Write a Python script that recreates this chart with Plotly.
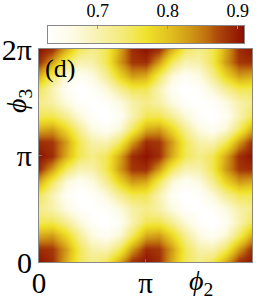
import numpy as np
import plotly.graph_objects as go

# one period (pi x pi) of the map, sampled every pi/8; rows = phi3, cols = phi2
quadrant = np.array([
    [0.905, 0.888, 0.818, 0.750, 0.725, 0.750, 0.818, 0.888, 0.905],
    [0.888, 0.882, 0.828, 0.752, 0.705, 0.699, 0.745, 0.830, 0.888],
    [0.818, 0.828, 0.780, 0.718, 0.665, 0.644, 0.672, 0.745, 0.818],
    [0.750, 0.752, 0.718, 0.672, 0.637, 0.624, 0.644, 0.699, 0.750],
    [0.725, 0.705, 0.665, 0.637, 0.629, 0.637, 0.665, 0.705, 0.725],
    [0.750, 0.699, 0.644, 0.624, 0.637, 0.672, 0.718, 0.752, 0.750],
    [0.818, 0.745, 0.672, 0.644, 0.665, 0.718, 0.780, 0.828, 0.818],
    [0.888, 0.830, 0.745, 0.699, 0.705, 0.752, 0.828, 0.882, 0.888],
    [0.905, 0.888, 0.818, 0.750, 0.725, 0.750, 0.818, 0.888, 0.905],
])
idx = np.r_[0:8, 0:9]
z_full = quadrant[np.ix_(idx, idx)]
phi2 = np.arange(17) * np.pi / 8
phi3 = np.arange(17) * np.pi / 8

zmin, zmax = 0.629, 0.909
cbar_ticks = [0.7, 0.8, 0.9]
cbar_ticktext = ["0.7", "0.8", "0.9"]
axis_tickvals = [0, np.pi, 2 * np.pi]
axis_ticktext = ["0", "π", "2π"]

colorscale = [
    [0.0, "#ffffff"], [0.12, "#fdfbe4"], [0.25, "#f8f2b2"], [0.38, "#f4ea76"],
    [0.5, "#f0e22a"], [0.62, "#e2c01e"], [0.72, "#d09a16"], [0.8, "#c0720e"],
    [0.88, "#a9420a"], [1.0, "#8c0c00"],
]

fig = go.Figure()
fig.add_trace(go.Heatmap(
    x=phi2, y=phi3, z=z_full, zmin=zmin, zmax=zmax, colorscale=colorscale,
    zsmooth="best", showscale=False, hoverinfo="skip",
))
cb_x = np.linspace(zmin, zmax, 200)
fig.add_trace(go.Heatmap(
    x=cb_x, y=[0], z=[cb_x], zmin=zmin, zmax=zmax, colorscale=colorscale,
    zsmooth="best", showscale=False, xaxis="x2", yaxis="y2", hoverinfo="skip",
))

W, H = 266, 301
serif = "Liberation Serif"
common = dict(showgrid=False, zeroline=False, automargin=False,
              showline=True, linecolor="#888", linewidth=1, mirror=True)
fig.update_layout(
    width=W, height=H, margin=dict(l=0, r=0, t=0, b=0, autoexpand=False),
    paper_bgcolor="white", plot_bgcolor="white",
    font=dict(family=serif, color="black"),
    xaxis=dict(domain=[39 / W, 252 / W], range=[0, 2 * np.pi],
               tickvals=axis_tickvals, ticktext=axis_ticktext,
               tickfont=dict(size=29, family=serif), ticks="inside", ticklen=3,
               tickcolor="#777", ticklabelstandoff=-5, **common),
    yaxis=dict(domain=[1 - 262 / H, 1 - 49 / H], range=[0, 2 * np.pi],
               tickvals=axis_tickvals, ticktext=axis_ticktext,
               tickfont=dict(size=30, family=serif), ticks="inside", ticklen=3,
               tickcolor="#777", ticklabelstandoff=0, **common),
    xaxis2=dict(domain=[48 / W, 244 / W], range=[zmin, zmax], side="top",
                anchor="y2", tickvals=cbar_ticks, ticktext=cbar_ticktext,
                tickfont=dict(size=18, family=serif), ticks="inside", ticklen=3,
                tickcolor="#999", ticklabelstandoff=1, **common),
    yaxis2=dict(domain=[1 - 43 / H, 1 - 26 / H], range=[-0.5, 0.5], anchor="x2",
                showticklabels=False, ticks="", **common),
    annotations=[
        dict(text="(d)", xref="x domain", yref="y domain", x=0.02, y=0.985,
             xanchor="left", yanchor="top", showarrow=False,
             font=dict(size=26, family=serif)),
        dict(text="<i>ϕ</i><sub>3</sub>", xref="paper", yref="paper",
             x=18 / W, y=1 - 101 / H, textangle=-90, showarrow=False,
             xanchor="center", yanchor="middle", font=dict(size=28, family=serif)),
        dict(text="<i>ϕ</i><sub>2</sub>", xref="paper", yref="paper",
             x=201 / W, y=1 - 282 / H, showarrow=False,
             xanchor="center", yanchor="middle", font=dict(size=28, family=serif)),
    ],
)
fig.write_html("out.html", config={"displayModeBar": False},
               post_script="document.body.style.margin='0';")
